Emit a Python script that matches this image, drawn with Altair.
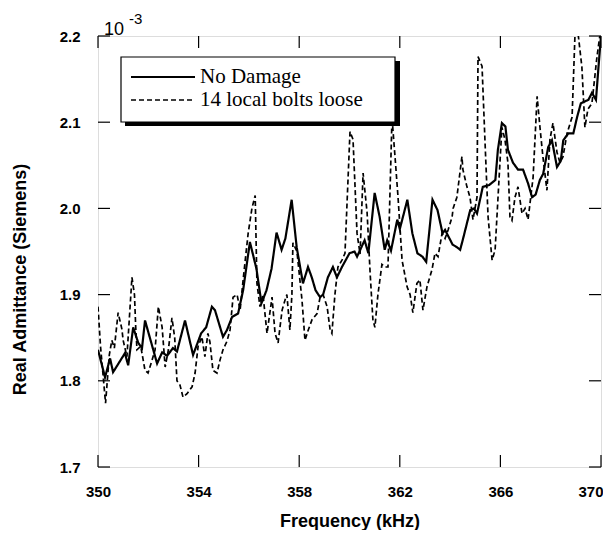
import altair as alt
import pandas as pd

# ---- data (values in units of 10^-3 Siemens) ----
series_names = ["No Damage", "14 local bolts loose"]

nd_freq = [350.0, 350.28, 350.48, 350.6, 351.07, 351.2, 351.4, 351.6, 351.75, 351.87,
           352.35, 352.55, 352.75, 352.98, 353.14, 353.46, 353.78, 354.1, 354.3, 354.53,
           354.65, 354.97, 355.13, 355.33, 355.57, 355.77, 356.04, 356.3, 356.5, 356.7,
           356.9, 357.1, 357.3, 357.45, 357.7, 357.9, 358.15, 358.35, 358.5, 358.65,
           358.83, 358.95, 359.14, 359.34, 359.5, 359.7, 360.0, 360.2, 360.3, 360.6,
           360.75, 361.0, 361.2, 361.4, 361.5, 361.65, 361.9, 362.0, 362.3, 362.5,
           362.7, 362.9, 363.05, 363.3, 363.5, 363.7, 363.8, 364.1, 364.27, 364.4,
           364.5, 364.8, 364.95, 365.07, 365.3, 365.55, 365.8, 365.9, 366.06, 366.2,
           366.3, 366.5, 366.7, 366.9, 367.1, 367.26, 367.4, 367.57, 367.7, 367.9,
           368.05, 368.25, 368.4, 368.5, 368.7, 368.9, 369.05, 369.2, 369.5, 369.64,
           369.8, 369.9, 370.0]
nd_val = [1.836, 1.804, 1.826, 1.81, 1.832, 1.818, 1.862, 1.844, 1.838, 1.87,
          1.82, 1.833, 1.829, 1.838, 1.834, 1.87, 1.83, 1.855, 1.862, 1.886,
          1.882, 1.851, 1.859, 1.874, 1.878, 1.905, 1.961, 1.93, 1.89, 1.905,
          1.93, 1.972, 1.952, 1.965, 2.01, 1.955, 1.913, 1.932, 1.92, 1.905,
          1.897, 1.9, 1.92, 1.932, 1.92, 1.932, 1.948, 1.95, 1.944, 1.963,
          1.948, 2.018, 1.99, 1.952, 1.963, 1.951, 1.987, 1.976, 2.01, 1.971,
          1.948, 1.944, 1.938, 2.01, 1.998, 1.971, 1.975, 1.958, 1.955, 1.952,
          1.963, 1.998, 2.0, 1.994, 2.025, 2.027, 2.033, 2.068, 2.099, 2.095,
          2.068, 2.053, 2.045, 2.045, 2.029, 2.013, 2.016, 2.033, 2.04, 2.071,
          2.079, 2.048, 2.055, 2.079, 2.087, 2.087, 2.106, 2.122, 2.126, 2.134,
          2.126, 2.164, 2.2]

loose_freq = [350.0, 350.1, 350.3, 350.45, 350.55, 350.65, 350.8, 350.95, 351.0, 351.15,
              351.35, 351.45, 351.5, 351.55, 351.7, 351.87, 351.99, 352.15, 352.27, 352.4,
              352.55, 352.67, 352.8, 352.94, 353.05, 353.14, 353.26, 353.38, 353.54, 353.74,
              353.86, 353.98, 354.13, 354.25, 354.37, 354.45, 354.57, 354.73, 354.85, 354.97,
              355.13, 355.25, 355.37, 355.53, 355.65, 355.77, 355.97, 356.12, 356.25, 356.32,
              356.44, 356.56, 356.72, 356.92, 357.04, 357.16, 357.32, 357.44, 357.51, 357.63,
              357.71, 357.75, 357.91, 358.11, 358.23, 358.35, 358.51, 358.71, 358.83, 358.95,
              359.11, 359.23, 359.3, 359.42, 359.54, 359.7, 359.82, 360.02, 360.14, 360.3,
              360.42, 360.54, 360.7, 360.82, 360.93, 361.01, 361.13, 361.29, 361.41, 361.53,
              361.69, 361.81, 361.93, 362.09, 362.29, 362.41, 362.52, 362.68, 362.8, 362.92,
              363.08, 363.28, 363.4, 363.52, 363.68, 363.8, 363.92, 364.08, 364.12, 364.27,
              364.47, 364.51, 364.67, 364.79, 364.91, 365.07, 365.11, 365.27, 365.39, 365.51,
              365.67, 365.79, 365.9, 366.06, 366.18, 366.3, 366.38, 366.46, 366.58, 366.7,
              366.86, 366.98, 367.1, 367.3, 367.46, 367.57, 367.69, 367.85, 367.97, 368.09,
              368.25, 368.37, 368.49, 368.65, 368.85, 368.97, 369.08, 369.24, 369.36, 369.48,
              369.64, 369.84, 370.0]
loose_val = [1.886, 1.84, 1.774, 1.83, 1.847, 1.838, 1.879, 1.86, 1.847, 1.828,
             1.92, 1.9, 1.862, 1.836, 1.84, 1.812, 1.809, 1.824, 1.836, 1.886,
             1.862, 1.816, 1.836, 1.873, 1.85, 1.8, 1.795, 1.781, 1.785, 1.793,
             1.809, 1.84, 1.851, 1.828, 1.855, 1.845, 1.812, 1.809, 1.824, 1.836,
             1.846, 1.859, 1.897, 1.9, 1.882, 1.917, 1.971, 2.0, 2.015, 1.913,
             1.886, 1.9, 1.855, 1.897, 1.855, 1.844, 1.882, 1.894, 1.9, 1.859,
             1.9, 1.96, 1.95, 1.894, 1.847, 1.858, 1.871, 1.878, 1.897, 1.9,
             1.886, 1.859, 1.855, 1.9, 1.932, 1.94, 1.948, 2.089, 2.08, 1.971,
             1.947, 2.041, 1.995, 1.925, 1.871, 1.862, 1.9, 1.935, 1.932, 1.932,
             2.105, 2.06, 2.013, 1.94, 1.909, 1.9, 1.879, 1.913, 1.917, 1.882,
             1.909, 1.929, 1.948, 1.944, 1.971, 1.965, 1.975, 1.99, 2.0, 2.013,
             2.06, 2.045, 2.025, 2.013, 1.987, 2.013, 2.176, 2.165, 2.076, 1.99,
             1.94, 1.952, 2.01, 2.094, 2.08, 2.053, 1.99, 1.986, 2.013, 2.025,
             1.994, 2.0, 1.987, 2.036, 2.13, 2.095, 2.06, 2.021, 2.08, 2.099,
             2.065, 2.053, 2.06, 2.087, 2.106, 2.205, 2.205, 2.164, 2.094, 2.115,
             2.122, 2.176, 2.21]

x_ticks = [350, 354, 358, 362, 366, 370]
y_ticks = [1.7, 1.8, 1.9, 2.0, 2.1, 2.2]

W, H = 503, 431
TICK = 12
LBL_FONT = "Liberation Sans, Arial"
TITLE_FONT = "Liberation Sans, Arial"
SERIF = "Liberation Serif, Times New Roman"

df = pd.concat([
    pd.DataFrame({"freq": nd_freq, "val": nd_val, "series": series_names[0]}),
    pd.DataFrame({"freq": loose_freq, "val": loose_val, "series": series_names[1]}),
])

xs = alt.Scale(domain=[350, 370], nice=False, zero=False)
ys = alt.Scale(domain=[1.7, 2.2], nice=False, zero=False)

x_axis = alt.Axis(
    values=x_ticks, format="d", title="Frequency (kHz)", grid=False, domain=False,
    ticks=False, tickSize=0, labelPadding=24, labelBaseline="middle",
    labelAlign={"condition": {"test": "datum.value == 370", "value": "right"}, "value": "center"},
    labelOffset={"condition": {"test": "datum.value == 370", "value": 2}, "value": 0},
    labelFont=LBL_FONT, labelFontSize=15, labelFontWeight="bold", labelColor="black",
    labelFlush=False,
    titleFont=TITLE_FONT, titleFontSize=18, titleFontWeight="bold", titleColor="black",
    titleBaseline="alphabetic", titleY=59)
y_axis = alt.Axis(
    values=y_ticks, format=".1f", title="Real Admittance (Siemens)", grid=False, domain=False,
    ticks=False, tickSize=0, labelPadding=18,
    labelFont=LBL_FONT, labelFontSize=15, labelFontWeight="bold", labelColor="black",
    labelFlush=False,
    titleFont=TITLE_FONT, titleFontSize=18, titleFontWeight="bold", titleColor="black",
    titleAngle=270, titleAlign="center", titleBaseline="middle", titleX=-78, titleY=243)

dash_scale = alt.Scale(domain=series_names, range=[[1, 0], [5, 3]])
width_scale = alt.Scale(domain=series_names, range=[2.2, 1.7])

lines = alt.Chart(df).mark_line(clip=True, color="black").encode(
    x=alt.X("freq:Q", scale=xs, axis=x_axis),
    y=alt.Y("val:Q", scale=ys, axis=y_axis),
    strokeDash=alt.StrokeDash("series:N", scale=dash_scale, legend=None),
    strokeWidth=alt.StrokeWidth("series:N", scale=width_scale, legend=None),
    order="freq:Q",
)

xt = pd.DataFrame({"freq": x_ticks})
yt = pd.DataFrame({"val": y_ticks})

bottom_ticks = alt.Chart(xt).mark_rule(color="black", strokeWidth=1.2).encode(
    x=alt.X("freq:Q", scale=xs, axis=x_axis), y=alt.value(H), y2=alt.value(H - TICK))
top_ticks = alt.Chart(xt).mark_rule(color="black", strokeWidth=1.2).encode(
    x=alt.X("freq:Q", scale=xs, axis=x_axis), y=alt.value(0), y2=alt.value(TICK))
left_ticks = alt.Chart(yt).mark_rule(color="black", strokeWidth=1.2).encode(
    y=alt.Y("val:Q", scale=ys, axis=y_axis), x=alt.value(0), x2=alt.value(TICK))
right_ticks = alt.Chart(yt).mark_rule(color="black", strokeWidth=1.2).encode(
    y=alt.Y("val:Q", scale=ys, axis=y_axis), x=alt.value(W), x2=alt.value(W - TICK))

one = pd.DataFrame({"k": [0]})

# legend box with drop shadow
shadow = alt.Chart(one).mark_rect(color="black").encode(
    x=alt.value(27), x2=alt.value(302), y=alt.value(25), y2=alt.value(90))
box = alt.Chart(one).mark_rect(fill="white", stroke="black", strokeWidth=1.2).encode(
    x=alt.value(23), x2=alt.value(297), y=alt.value(21), y2=alt.value(86))
leg_df = pd.DataFrame({"series": series_names, "ly": [41, 64]})
leg_lines = alt.Chart(leg_df).mark_rule(color="black").encode(
    x=alt.value(33), x2=alt.value(97), y=alt.Y("ly:Q", scale=None, axis=None),
    strokeDash=alt.StrokeDash("series:N", scale=dash_scale, legend=None),
    strokeWidth=alt.StrokeWidth("series:N", scale=width_scale, legend=None),
)
leg_text = alt.Chart(leg_df).mark_text(align="left", baseline="middle", font=SERIF,
                                        fontSize=21, color="black").encode(
    x=alt.value(102), y=alt.Y("ly:Q", scale=None, axis=None), text="series:N")

exp10 = alt.Chart(one).mark_text(align="left", baseline="alphabetic", font=TITLE_FONT,
                                 fontSize=18, color="black", text="10").encode(
    x=alt.value(6), y=alt.value(-1))
exp3 = alt.Chart(one).mark_text(align="left", baseline="middle", font=TITLE_FONT,
                                fontSize=15, color="black", text="-3").encode(
    x=alt.value(31), y=alt.value(-17))

chart = alt.layer(
    lines, bottom_ticks, top_ticks, left_ticks, right_ticks,
    shadow, box, leg_lines, leg_text, exp10, exp3,
).properties(
    width=W, height=H,
    autosize=alt.AutoSizeParams(type="none"),
    padding={"left": 90, "top": 28, "right": 2, "bottom": 63},
).configure_view(
    stroke="black", strokeWidth=1.5
).configure(background="white")

chart.save("out.html", embed_options={"renderer": "svg", "actions": False})
